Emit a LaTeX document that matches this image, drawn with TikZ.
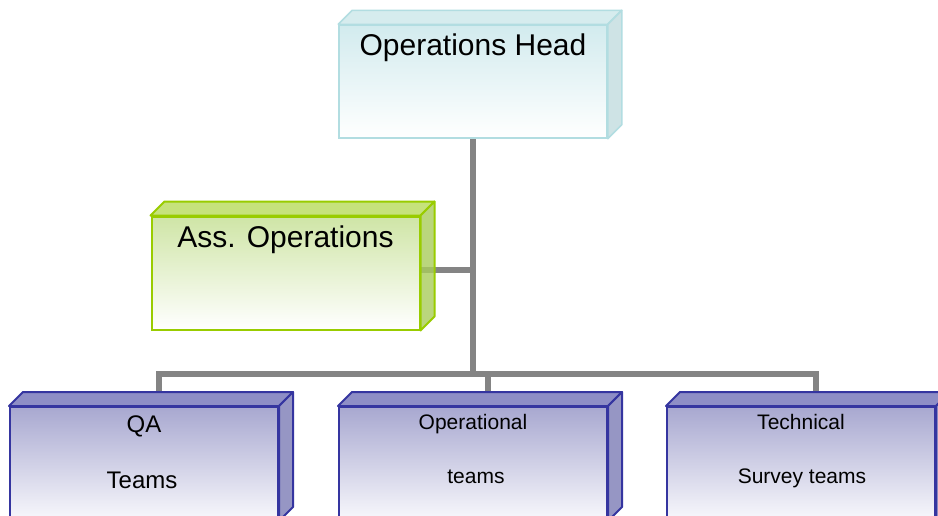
\documentclass[tikz,border=0pt]{standalone}
\usepackage{fontspec}
\setmainfont{Liberation Sans}
\usetikzlibrary{backgrounds}
\definecolor{headB}{HTML}{B2DDE1}
\definecolor{headT}{HTML}{D2EBEE}
\definecolor{headTop}{HTML}{D6ECEE}
\definecolor{headSide}{HTML}{C2DCDF}
\definecolor{assB}{HTML}{99CC00}
\definecolor{assT}{HTML}{CFE5A6}
\definecolor{assTop}{HTML}{C6E27C}
\definecolor{assSide}{HTML}{A9CC5C}
\definecolor{teamB}{HTML}{3535A0}
\definecolor{teamT}{HTML}{A8A8D0}
\definecolor{teamBot}{HTML}{F8F8FC}
\definecolor{teamTop}{HTML}{8E8EC6}
\definecolor{teamSide}{HTML}{7C7CB6}
\definecolor{connC}{HTML}{848484}
\newcommand\cubefaces[5]{%
  \draw[draw=#4, line width=#5, line join=round, fill=#2]
    (#1.north west) -- ++(14pt,14pt) -- ([shift={(14pt,14pt)}]#1.north east) -- (#1.north east) -- cycle;
  \draw[draw=#4, line width=#5, line join=round, fill=#3, fill opacity=0.8]
    (#1.north east) -- ++(14pt,14pt) -- ([shift={(14pt,14pt)}]#1.south east) -- (#1.south east) -- cycle;}
\begin{document}
\begin{tikzpicture}[x=1pt,y=-1pt,
  box/.style={rectangle, minimum width=268pt, minimum height=113pt, inner sep=0pt},
  headbox/.style={box, line width=1.5pt, draw=headB, top color=headT, bottom color=white},
  assbox/.style={box, line width=2pt, draw=assB, top color=assT, bottom color=white},
  teambox/.style={box, line width=2pt, draw=teamB, top color=teamT, bottom color=teamBot},
  big/.style={font=\fontsize{30}{36}\selectfont, anchor=base, inner sep=0pt},
  small/.style={font=\fontsize{21}{25}\selectfont, anchor=base, inner sep=0pt},
  mid/.style={font=\fontsize{24}{28}\selectfont, anchor=base, inner sep=0pt},
  conn/.style={line width=6pt, draw=connC}]
\useasboundingbox (0,0) rectangle (938,515);
\clip (0,0) rectangle (938,515);

\node[headbox] (head) at (473,81.5) {};
\cubefaces{head}{headTop}{headSide}{headB}{1.5pt}
\node[big] (headtxt) at (473,55) {Operations Head};

\node[assbox] (ass) at (285.5,273) {};
\cubefaces{ass}{assTop}{assSide}{assB}{2pt}
\node[big] (asstxt) at (285.5,247) {Ass. Operations};

\node[teambox] (q1) at (144,463.5) {};
\cubefaces{q1}{teamTop}{teamSide}{teamB}{2pt}
\node[mid] (q1a) at (144,432) {QA};
\node[mid] (q1b) at (142,488) {Teams};

\node[teambox] (q2) at (473,463.5) {};
\cubefaces{q2}{teamTop}{teamSide}{teamB}{2pt}
\node[small] (q2a) at (473,429) {Operational};
\node[small] (q2b) at (476,483) {teams};

\node[teambox] (q3) at (801,463.5) {};
\cubefaces{q3}{teamTop}{teamSide}{teamB}{2pt}
\node[small] (q3a) at (801,429) {Technical};
\node[small] (q3b) at (802,483) {Survey teams};

\coordinate (bus) at (473,374);
\coordinate (midpt) at (473,270);
\coordinate (q1t) at ([shift={(14.5pt,13pt)}]q1.north);
\coordinate (q2t) at ([shift={(14.5pt,13pt)}]q2.north);
\coordinate (q3t) at ([shift={(14.5pt,13pt)}]q3.north);
\begin{scope}[on background layer]
\fill[white] (0,0) rectangle (938,515);
\draw[conn] (head.south) -- (bus);
\draw[conn] (midpt) -- (ass.east |- midpt);
\draw[conn] (q1t) |- (bus) -| (q3t);
\draw[conn] (bus -| q2t) -- (q2t);
\end{scope}
\end{tikzpicture}
\end{document}
